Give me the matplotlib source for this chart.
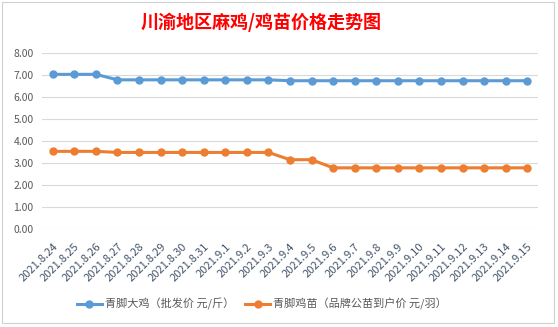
import matplotlib
matplotlib.use("Agg")
import matplotlib.pyplot as plt
from matplotlib.lines import Line2D
from matplotlib.patches import Rectangle

plt.rcParams['font.family'] = ['Noto Sans CJK SC', 'DejaVu Sans']

dates = ["2021.8.24", "2021.8.25", "2021.8.26", "2021.8.27", "2021.8.28", "2021.8.29",
         "2021.8.30", "2021.8.31", "2021.9.1", "2021.9.2", "2021.9.3", "2021.9.4",
         "2021.9.5", "2021.9.6", "2021.9.7", "2021.9.8", "2021.9.9", "2021.9.10",
         "2021.9.11", "2021.9.12", "2021.9.13", "2021.9.14", "2021.9.15"]
big_chicken = [7.03, 7.03, 7.03, 6.78, 6.78, 6.78, 6.78, 6.78, 6.78, 6.78, 6.78, 6.74,
               6.74, 6.74, 6.74, 6.74, 6.74, 6.74, 6.74, 6.74, 6.74, 6.74, 6.74]
chick = [3.53, 3.53, 3.53, 3.48, 3.48, 3.48, 3.48, 3.48, 3.48, 3.48, 3.48, 3.15,
         3.15, 2.78, 2.78, 2.78, 2.78, 2.78, 2.78, 2.78, 2.78, 2.78, 2.78]
series_names = ["青脚大鸡（批发价 元/斤）", "青脚鸡苗（品牌公苗到户价 元/羽）"]
yticks = [0, 1, 2, 3, 4, 5, 6, 7, 8]
title = "川渝地区麻鸡/鸡苗价格走势图"

W, H = 558, 327
fig = plt.figure(figsize=(W / 100, H / 100), dpi=100)

# chart border
fig.patches.append(Rectangle((2 / W, 1 - 323 / H), (554 - 2) / W, (323 - 2) / H,
                             transform=fig.transFigure, fill=False,
                             edgecolor='#D0D0D0', lw=0.8))

n = len(dates)
ax = fig.add_axes([42 / W, 1 - 229 / H, (538 - 42) / W, (229 - 53) / H])
x = list(range(n))
blue = '#5B9BD5'
orange = '#ED7D31'
ax.plot(x, big_chicken, color=blue, lw=2.2, marker='o', ms=5, label=series_names[0], zorder=3)
ax.plot(x, chick, color=orange, lw=2.2, marker='o', ms=5, label=series_names[1], zorder=3)

ax.set_xlim(-0.5, n - 0.5)
ax.set_ylim(0, 8)
ax.set_yticks(yticks)
ax.set_yticklabels([f"{v:.2f}" for v in yticks], fontsize=7.5, color='#595959')
ax.grid(axis='y', color='#D9D9D9', lw=0.8)
ax.set_axisbelow(True)
for s in ax.spines.values():
    s.set_visible(False)
ax.tick_params(axis='y', length=0, pad=6)
ax.set_xticks(x)
ax.set_xticklabels(dates, rotation=45, ha='right', va='top', rotation_mode='anchor',
                   fontsize=8, color='#44546A')
ax.tick_params(axis='x', length=0, pad=9)

fig.text(261 / W, 1 - 22 / H, title, color='#FF0000', fontsize=13, fontweight='bold',
         ha='center', va='center')

fig.legend(handles=[Line2D([], [], color=blue, lw=2.2, marker='o', ms=5),
                    Line2D([], [], color=orange, lw=2.2, marker='o', ms=5)],
           labels=series_names, loc='center', bbox_to_anchor=(262 / W, 1 - 304 / H),
           ncol=2, frameon=False, fontsize=8, handlelength=2.2, handletextpad=0.3,
           columnspacing=1.0, labelcolor='#595959')

fig.savefig("out.png", dpi=100)
